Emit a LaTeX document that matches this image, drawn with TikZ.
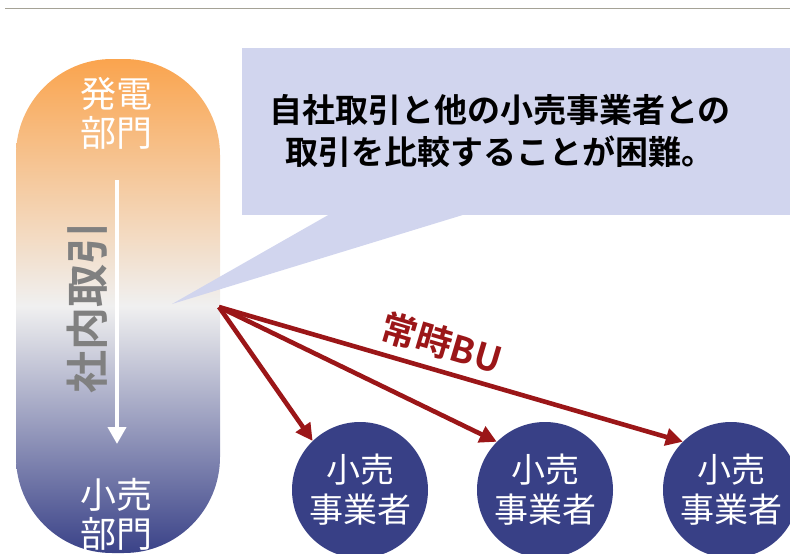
\documentclass[tikz,border=0pt]{standalone}
\usepackage{fontspec}
\setmainfont{Noto Sans CJK JP}[BoldFont={Noto Sans CJK JP Bold}]
\usetikzlibrary{arrows.meta}
\definecolor{bured}{RGB}{155,22,24}
\definecolor{navy}{RGB}{56,64,134}
\definecolor{calloutc}{RGB}{209,213,238}
\definecolor{pilltop}{RGB}{250,164,78}
\definecolor{pillmid}{RGB}{240,240,240}
\definecolor{pillbot}{RGB}{58,66,136}
\definecolor{rulec}{RGB}{165,162,150}
\definecolor{graytext}{RGB}{128,128,128}
\tikzset{
  retailer/.style={circle, fill=navy, minimum size=136pt, inner sep=0pt,
    text=white, align=center, font=\fontsize{34}{40}\selectfont},
  pilltext/.style={text=white, align=center, font=\fontsize{36}{39}\selectfont},
  buarrow/.style={draw=bured, line width=4.6pt, -{Triangle[length=17pt,width=17pt]}, fill=bured},
}
\begin{document}
\begin{tikzpicture}[x=1pt,y=-1pt]
\useasboundingbox (0,0) rectangle (790,554);
% top rule
\draw[rulec, line width=1.6pt] (5,8.5) -- (790,8.5);
% pill
\shade[top color=pilltop, bottom color=pillbot, middle color=pillmid, rounded corners=96pt]
  (16,59) rectangle (220,553);
\node[pilltext] (gen) at (116,113) {発電\\部門};
\node[pilltext] (ret) at (116,514) {小売\\部門};
\coordinate (ia) at (117,180);
\coordinate (ib) at (117,444);
\draw[white, line width=4pt, -{Triangle[length=17pt,width=18pt]}] (ia) -- (ib);
\node[rotate=90, text=graytext, font=\fontsize{43}{43}\selectfont\bfseries] (inner) at (87,307) {社内取引};
% callout
\fill[calloutc] (242,48) rectangle (790,215);
\fill[calloutc] (330,214) -- (466,214) -- (172,304) -- cycle;
\node[align=center, font=\fontsize{33}{42}\selectfont\bfseries] (msg) at (500,131)
  {自社取引と他の小売事業者との\\取引を比較することが困難。};
% retailers
\node[retailer] (c1) at (360,490) {小売\\事業者};
\node[retailer] (c2) at (545,490) {小売\\事業者};
\node[retailer] (c3) at (731,490) {小売\\事業者};
% arrows
\coordinate (src) at (219,307);
\draw[buarrow] (src) -- (c1.134);
\draw[buarrow] (src) -- (c2.135);
\draw[buarrow] (src) -- (c3.135);
\node[rotate=-16.5, text=bured, font=\fontsize{36}{36}\selectfont\bfseries] (bu) at (442,343) {常時BU};
\end{tikzpicture}
\end{document}
